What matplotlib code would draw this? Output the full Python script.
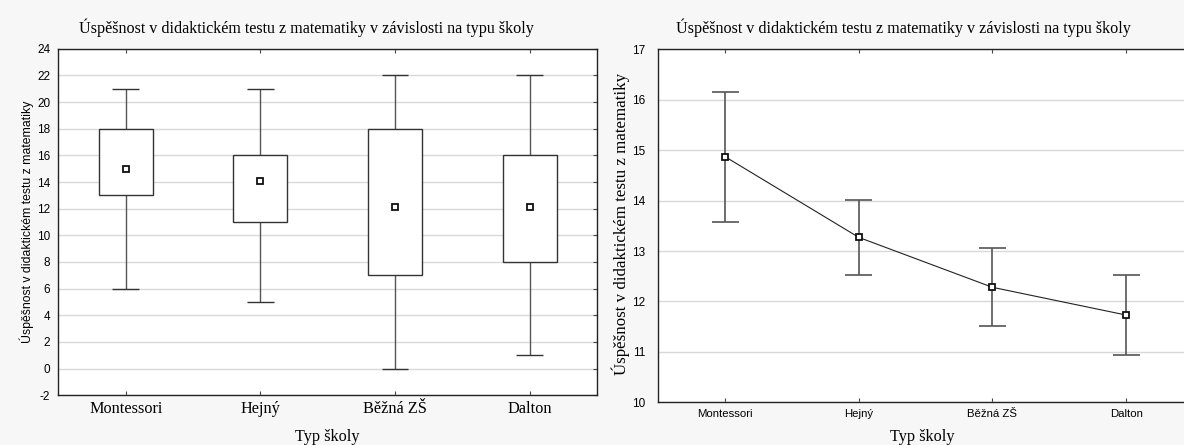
import matplotlib
matplotlib.use("Agg")
import matplotlib.pyplot as plt

plt.rcParams["axes.unicode_minus"] = False

# data
schools = ["Montessori", "Hejný", "Běžná ZŠ", "Dalton"]
box_min = [6, 5, 0, 1]
box_q1 = [13, 11, 7, 8]
box_q3 = [18, 16, 18, 16]
box_max = [21, 21, 22, 22]
box_mean = [15.0, 14.1, 12.14, 12.14]

line_mean = [14.87, 13.27, 12.28, 11.73]
ci_low = [13.58, 12.52, 11.52, 10.93]
ci_high = [16.15, 14.02, 13.05, 12.53]

title = "Úspěšnost v didaktickém testu z matematiky v závislosti na typu školy"
ylab = "Úspěšnost v didaktickém testu z matematiky"
xlab = "Typ školy"

W, H = 1184, 445
serif = ["Liberation Serif", "DejaVu Serif"]
sans = ["Liberation Sans", "DejaVu Sans"]
grid_c = "#d9d9d9"
edge_c = "#333333"
bar_c = "#555555"


def px_axes(fig, left, top, right, bottom):
    return fig.add_axes([left / W, (H - bottom) / H, (right - left) / W, (bottom - top) / H])


def style_axes(ax):
    ax.set_facecolor("white")
    for s in ax.spines.values():
        s.set_color("#222222")
        s.set_linewidth(1.0)
    ax.yaxis.grid(True, color=grid_c, linewidth=1.0, zorder=0)
    ax.set_axisbelow(True)
    ax.set_xlim(-0.5, 3.5)
    ax.set_xticks(range(len(schools)))
    ax.tick_params(axis="x", direction="in", top=True, bottom=True, length=3, color="#444444")


fig = plt.figure(figsize=(W / 100, H / 100), dpi=100, facecolor="#f7f7f7")

# box plot panel
ax1 = px_axes(fig, 58.4, 48.7, 597, 395.3)
style_axes(ax1)
ax1.set_ylim(-2, 24)
ax1.set_yticks(range(-2, 25, 2))
ax1.tick_params(axis="y", left=False, right=True, direction="in", length=3,
                labelleft=True, pad=6, labelsize=8.5, color="#444444")
for lab in ax1.get_yticklabels():
    lab.set_family(sans)
ax1.set_xticklabels(schools, family=serif, fontsize=11.7)
ax1.tick_params(axis="x", pad=4)

x = list(range(len(schools)))
ax1.vlines(x, box_min, box_q1, color=bar_c, linewidth=1.0, zorder=2)
ax1.vlines(x, box_q3, box_max, color=bar_c, linewidth=1.0, zorder=2)
for xi, lo, hi in zip(x, box_min, box_max):
    ax1.hlines([lo, hi], xi - 0.1, xi + 0.1, color=edge_c, linewidth=1.0, zorder=2)
ax1.bar(x, [q3 - q1 for q1, q3 in zip(box_q1, box_q3)], bottom=box_q1, width=0.4,
        facecolor="white", edgecolor=edge_c, linewidth=1.0, zorder=3)
ax1.plot(x, box_mean, linestyle="none", marker="s", markersize=4, markerfacecolor="white",
         markeredgecolor="#111111", markeredgewidth=1.3, zorder=4)

# means with error bars panel
ax2 = px_axes(fig, 658.3, 49.3, 1193, 402.3)
style_axes(ax2)
ax2.set_ylim(10, 17)
ax2.set_yticks(range(10, 18))
ax2.tick_params(axis="y", left=False, right=False, labelsize=8.5, pad=6)
for lab in ax2.get_yticklabels():
    lab.set_family(sans)
ax2.set_xticklabels(schools, family=sans, fontsize=8.2)
ax2.tick_params(axis="x", pad=5)

ax2.vlines(x, ci_low, ci_high, color=bar_c, linewidth=1.2, zorder=2)
for xi, lo, hi in zip(x, ci_low, ci_high):
    ax2.hlines([lo, hi], xi - 0.1, xi + 0.1, color=bar_c, linewidth=1.2, zorder=2)
ax2.plot(x, line_mean, color="#222222", linewidth=0.8, marker="s", markersize=4,
         markerfacecolor="white", markeredgecolor="#111111", markeredgewidth=1.3, zorder=4)

# titles and axis labels
fig.text(306 / W, 1 - 28 / H, title, family=serif, fontsize=11.6, ha="center", va="center")
fig.text(903 / W, 1 - 28 / H, title, family=serif, fontsize=11.6, ha="center", va="center")
fig.text(327 / W, 1 - 437 / H, xlab, family=serif, fontsize=11.7, ha="center", va="center")
fig.text(922 / W, 1 - 437 / H, xlab, family=serif, fontsize=11.7, ha="center", va="center")
fig.text(27 / W, 1 - 222 / H, ylab, family=sans, fontsize=8.8, rotation=90, ha="center", va="center")
fig.text(621 / W, 1 - 224 / H, ylab, family=serif, fontsize=12.2, rotation=90, ha="center", va="center")

fig.savefig("out.png", dpi=100, facecolor=fig.get_facecolor())
